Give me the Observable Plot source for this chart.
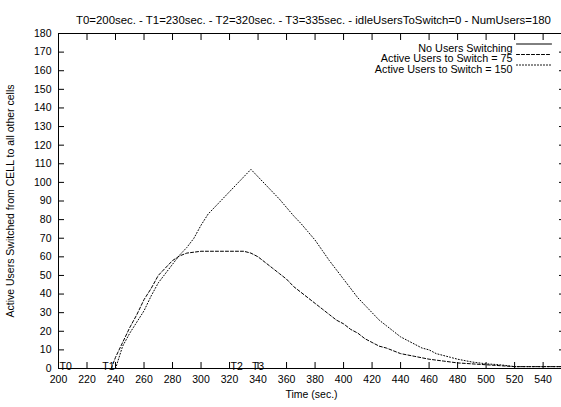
<!DOCTYPE html>
<html><head><meta charset="utf-8">
<script src="https://cdn.jsdelivr.net/npm/d3@7"></script>
<script src="https://cdn.jsdelivr.net/npm/@observablehq/plot@0.6"></script>
<style>html,body{margin:0;padding:0;background:#fff;overflow:hidden} svg{display:block}</style>
</head><body><div id="chart"></div>
<script>
const title = "T0=200sec. - T1=230sec. - T2=320sec. - T3=335sec. - idleUsersToSwitch=0 - NumUsers=180";
const xLabel = "Time (sec.)";
const yLabel = "Active Users Switched from CELL to all other cells";
const xTicks = [200,220,240,260,280,300,320,340,360,380,400,420,440,460,480,500,520,540];
const yTicks = [0,10,20,30,40,50,60,70,80,90,100,110,120,130,140,150,160,170,180];
const seriesNames = ["No Users Switching", "Active Users to Switch = 75", "Active Users to Switch = 150"];
const seriesDash = [null, "3,2", "1,2"];

const tNone = [200, 555];
const vNone = [0, 0];

const t75 = [237,240,245,250,255,260,265,270,275,280,285,290,295,300,310,320,330,335,340,345,350,355,360,365,370,375,380,385,390,395,400,405,410,415,420,425,430,440,450,460,470,480,490,500,510,520,530,540,555];
const v75 = [0,6,14,22,29,37,43,50,54,58,60.5,62,62.5,63,63,63,63,62,60,57,54,51,48,44,41,38,35,32,29,26,24,21,19,16,14,12,11,8,6.5,5,4,3,2.5,2,1.5,1,1,1,1];

const t150 = [240,245,250,255,260,265,270,275,280,285,290,295,300,305,310,315,320,325,330,335,340,345,350,355,360,365,370,375,380,385,390,395,400,405,410,415,420,425,430,435,440,445,450,455,460,465,470,475,480,490,500,510,520,530,540,555];
const v150 = [0,12,19,25,31,39,46,51,56,61,65,70,77,83,87,91,95,99,103,107,103,99,95,91,86.5,82,78,73.5,69,63.5,58,53,48,43,38,34,30,26,23,20,17,15,13,11,10,8,7,6,5,3.5,2.5,2,1,1,1,1];

const markerNames = ["T0", "T1", "T2", "T3"];
const markerTimes = [200, 230, 320, 335];

const seriesT = [tNone, t75, t150];
const seriesV = [vNone, v75, v150];
const seriesRows = seriesT.map((ts, s) => ts.map((t, i) => ({series: seriesNames[s], t, v: seriesV[s][i]})));
const markers = markerNames.map((name, i) => ({name, t: markerTimes[i]}));

const font = "Liberation Sans, Arial, Helvetica, sans-serif";
const lineShape = {draw(context, l) { context.moveTo(0, 0); context.lineTo(0, -l); }};

const lineMarks = seriesRows.map((rows, i) =>
  Plot.line(rows, {x: "t", y: "v", stroke: "black", strokeWidth: 1, strokeDasharray: seriesDash[i] ?? undefined})
);

const legendMarks = seriesNames.flatMap((name, i) => [
  Plot.text([name], {frameAnchor: "top-right", dx: -52, dy: 10.5 + i * 10.5, textAnchor: "end", fontSize: 10.8, fill: "black"}),
  Plot.vector([name], {frameAnchor: "top-right", dx: -48, dy: 10.5 + i * 10.5, length: 35, rotate: 90, anchor: "start", shape: lineShape, stroke: "black", strokeWidth: 1, strokeDasharray: seriesDash[i] ?? undefined})
]);

const chart = Plot.plot({
  width: 561,
  height: 407,
  marginLeft: 58,
  marginRight: -3,
  marginTop: 33,
  marginBottom: 39,
  style: {fontFamily: font, fontSize: "10.5px", color: "black", background: "white"},
  x: {domain: [200, 555], label: null},
  y: {domain: [0, 180], label: null},
  marks: [
    Plot.frame({stroke: "black", strokeWidth: 1}),
    Plot.axisX({ticks: xTicks, tickSize: 0, tickPadding: 7, fontSize: 10.5, label: null}),
    Plot.axisX({ticks: xTicks, tickSize: -6, tickFormat: () => "", label: null}),
    Plot.axisX({ticks: xTicks, anchor: "top", tickSize: -6, tickFormat: () => "", label: null}),
    Plot.axisY({ticks: yTicks, tickSize: 0, tickPadding: 7, fontSize: 10.5, label: null}),
    Plot.axisY({ticks: yTicks, tickSize: -6, tickFormat: () => "", label: null}),
    Plot.axisY({ticks: yTicks, anchor: "right", tickSize: -6, tickFormat: () => "", label: null}),
    ...lineMarks,
    Plot.text(markers, {x: "t", y: 0, text: "name", textAnchor: "start", lineAnchor: "bottom", dx: 1, dy: 1, fontSize: 10.5, fill: "black"}),
    Plot.text([title], {frameAnchor: "top", dx: 2, dy: -18, fontSize: 11.4, fill: "black"}),
    Plot.text([xLabel], {frameAnchor: "bottom", dy: 29, fontSize: 10.5, fill: "black"}),
    Plot.text([yLabel], {frameAnchor: "left", dx: -48, rotate: -90, textAnchor: "middle", fontSize: 10.5, fill: "black"}),
    ...legendMarks
  ]
});
document.getElementById("chart").appendChild(chart);
</script>
</body></html>
